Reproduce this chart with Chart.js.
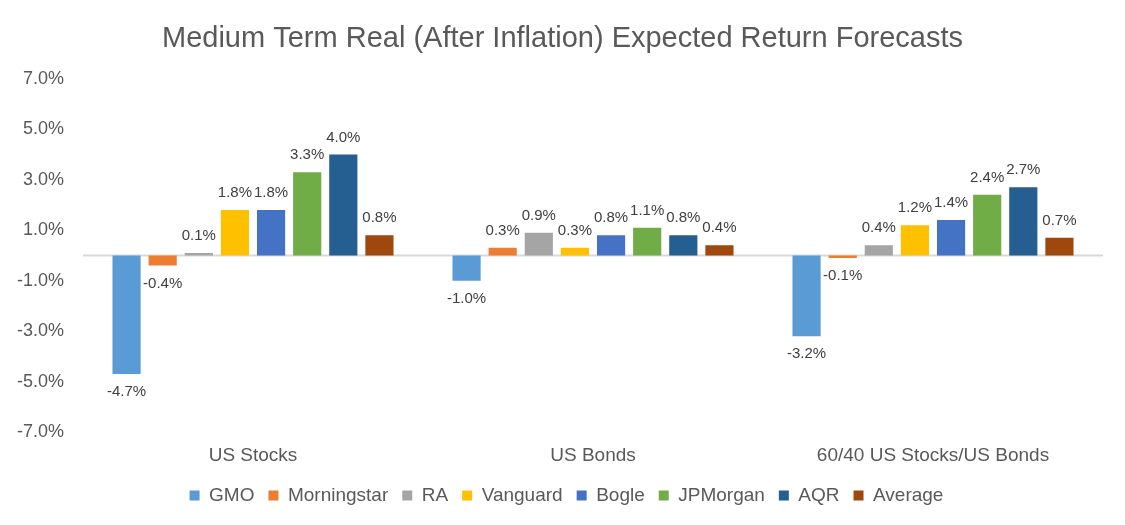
<!DOCTYPE html>
<html>
<head>
<meta charset="utf-8">
<script src="https://cdn.jsdelivr.net/npm/chart.js@4"></script>
<style>
  html, body { margin: 0; padding: 0; background: #fff; }
  #wrap { width: 1125px; height: 525px; }
</style>
</head>
<body>
<div id="wrap"><canvas id="chart"></canvas></div>
<script>
// data
const categories = ['US Stocks', 'US Bonds', '60/40 US Stocks/US Bonds'];
const sources = ['GMO', 'Morningstar', 'RA', 'Vanguard', 'Bogle', 'JPMorgan', 'AQR', 'Average'];
const gmo = [-4.7, -1.0, -3.2];
const morningstar = [-0.4, 0.3, -0.1];
const ra = [0.1, 0.9, 0.4];
const vanguard = [1.8, 0.3, 1.2];
const bogle = [1.8, 0.8, 1.4];
const jpmorgan = [3.3, 1.1, 2.4];
const aqr = [4.0, 0.8, 2.7];
const average = [0.8, 0.4, 0.7];
const yTicks = [-7, -5, -3, -1, 1, 3, 5, 7];

const seriesValues = [gmo, morningstar, ra, vanguard, bogle, jpmorgan, aqr, average];
const colors = ['#5B9BD5', '#ED7D31', '#A5A5A5', '#FFC000', '#4472C4', '#70AD47', '#255E91', '#9E480E'];

const FONT = "'Liberation Sans', Helvetica, Arial, sans-serif";

// zero line + value labels (no datalabels plugin available offline)
const zeroLine = {
  id: 'zeroLine',
  beforeDatasetsDraw(chart) {
    const { ctx, chartArea, scales } = chart;
    const y = scales.y.getPixelForValue(0);
    ctx.save();
    ctx.strokeStyle = '#D9D9D9';
    ctx.lineWidth = 2;
    ctx.beginPath();
    ctx.moveTo(chartArea.left, y);
    ctx.lineTo(chartArea.right, y);
    ctx.stroke();
    ctx.restore();
  }
};

const valueLabels = {
  id: 'valueLabels',
  afterDatasetsDraw(chart) {
    const ctx = chart.ctx;
    ctx.save();
    ctx.font = '15px ' + FONT;
    ctx.fillStyle = '#404040';
    ctx.textAlign = 'center';
    ctx.textBaseline = 'middle';
    chart.data.datasets.forEach((ds, i) => {
      chart.getDatasetMeta(i).data.forEach((bar, j) => {
        const v = ds.data[j];
        const y = v >= 0 ? bar.y - 17 : bar.y + 18;
        ctx.fillText(v.toFixed(1) + '%', bar.x, y);
      });
    });
    ctx.restore();
  }
};

// nudge title and legend so they sit centred on the canvas like the original
const nudgeBlocks = {
  id: 'nudgeBlocks',
  afterLayout(chart) {
    if (chart.titleBlock) { chart.titleBlock.left += 6; chart.titleBlock.right += 6; }
    if (chart.legend) { chart.legend.left += 10; chart.legend.right += 10; }
  }
};

new Chart(document.getElementById('chart'), {
  type: 'bar',
  data: {
    labels: categories,
    datasets: sources.map((name, i) => ({
      label: name,
      data: seriesValues[i],
      backgroundColor: colors[i],
      borderWidth: 0,
      categoryPercentage: 0.85,
      barPercentage: 0.78
    }))
  },
  options: {
    responsive: true,
    maintainAspectRatio: false,
    animation: false,
    layout: { padding: { left: 10, right: 22, top: 0, bottom: 10 } },
    plugins: {
      title: {
        display: true,
        text: 'Medium Term Real (After Inflation) Expected Return Forecasts',
        color: '#595959',
        font: { family: FONT, size: 29, weight: 'normal' },
        padding: { top: 22, bottom: 22 }
      },
      legend: {
        position: 'bottom',
        labels: {
          color: '#595959',
          font: { family: FONT, size: 19 },
          usePointStyle: true,
          pointStyle: 'rect',
          boxWidth: 10,
          boxHeight: 10,
          padding: 14
        }
      },
      tooltip: { enabled: false }
    },
    scales: {
      x: {
        afterFit(scale) { scale.height = 40; },
        grid: { display: false, drawTicks: false },
        border: { display: false },
        ticks: { color: '#595959', font: { family: FONT, size: 19 }, padding: 12 }
      },
      y: {
        min: -7,
        max: 7,
        afterBuildTicks(scale) { scale.ticks = yTicks.map(v => ({ value: v })); },
        afterFit(scale) { scale.width = 73; },
        grid: { display: false, drawTicks: false },
        border: { display: false },
        ticks: {
          color: '#595959',
          font: { family: FONT, size: 18 },
          padding: 19,
          callback: v => v.toFixed(1) + '%'
        }
      }
    }
  },
  plugins: [zeroLine, valueLabels, nudgeBlocks]
});
</script>
</body>
</html>
